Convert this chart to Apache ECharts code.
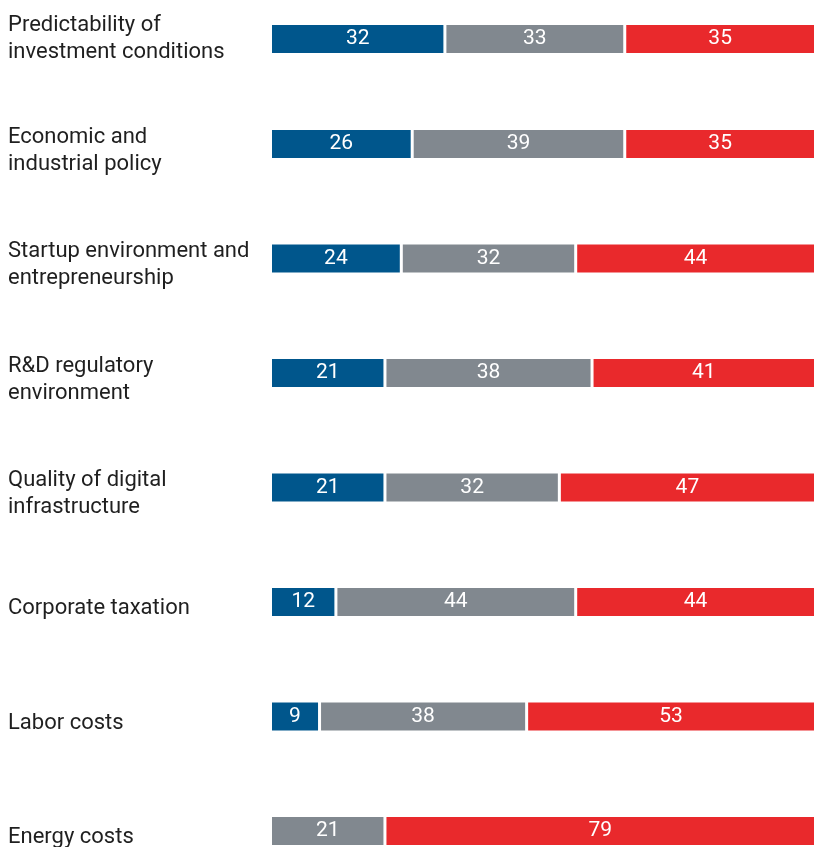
<!DOCTYPE html>
<html>
<head>
<meta charset="utf-8">
<script src="https://cdn.jsdelivr.net/npm/echarts@6/dist/echarts.min.js"></script>
<style>
  html, body { margin: 0; padding: 0; background: #fff; }
  #chart { width: 814px; height: 847px; }
</style>
</head>
<body>
<div id="chart"></div>
<script>
// Location factors, shares in percent (positive / neutral / negative)
const categories = [
  'Predictability of\ninvestment conditions',
  'Economic and\nindustrial policy',
  'Startup environment and\nentrepreneurship',
  'R&D regulatory\nenvironment',
  'Quality of digital\ninfrastructure',
  'Corporate taxation',
  'Labor costs',
  'Energy costs'
];
const positive = [32, 26, 24, 21, 21, 12, 9, 0];
const neutral  = [33, 39, 32, 38, 32, 44, 38, 21];
const negative = [35, 35, 44, 41, 47, 44, 53, 79];

const seriesColors = ['#00568C', '#81888F', '#E9292C'];
const seriesData = [positive, neutral, negative];

// The first row sits a little apart from the evenly spaced rows below it,
// so it gets a grid of its own. `lead` is an empty spacer line placed above
// a caption, which moves the centred caption down by half its height.
const groups = [
  { from: 0, to: 1, grid: { left: 270.5, width: 545, top: 0, height: 78 }, lead: 0 },
  { from: 1, to: 8, grid: { left: 270.5, width: 545, top: 86.75, height: 801.5 }, lead: 13 }
];

const captionStyle = { fontFamily: 'Roboto', fontSize: 22, lineHeight: 27, color: '#1f1f1f' };

const grids = [], xAxes = [], yAxes = [], series = [];
groups.forEach((g, gi) => {
  grids.push(Object.assign({ containLabel: false, outerBoundsMode: 'none' }, g.grid));
  xAxes.push({
    type: 'value', gridIndex: gi, min: 0, max: 100, show: false
  });
  yAxes.push({
    type: 'category', gridIndex: gi, inverse: true,
    data: categories.slice(g.from, g.to),
    axisLine: { show: false }, axisTick: { show: false }, splitLine: { show: false },
    axisLabel: {
      align: 'left', margin: 262.5,
      formatter: v => {
        const lines = v.split('\n').map(line => '{cap|' + line + '}');
        if (g.lead) lines.unshift('{lead| }');
        return lines.join('\n');
      },
      rich: {
        cap: captionStyle,
        lead: { fontSize: 8, lineHeight: g.lead || 1, color: 'rgba(0,0,0,0)' }
      }
    }
  });
  seriesData.forEach((arr, si) => {
    series.push({
      type: 'bar', stack: 'g' + gi, xAxisIndex: gi, yAxisIndex: gi,
      barWidth: 31,
      data: arr.slice(g.from, g.to),
      itemStyle: { color: seriesColors[si], borderColor: '#ffffff', borderWidth: 1.5 },
      label: {
        show: true, position: 'inside', color: '#ffffff',
        fontFamily: 'Roboto', fontSize: 21,
        formatter: p => (p.value ? String(p.value) : '')
      },
      emphasis: { disabled: true },
      animation: false
    });
  });
});

const chart = echarts.init(document.getElementById('chart'), null, { renderer: 'canvas' });
chart.setOption({
  backgroundColor: '#ffffff',
  animation: false,
  grid: grids,
  xAxis: xAxes,
  yAxis: yAxes,
  series: series
});
</script>
</body>
</html>
